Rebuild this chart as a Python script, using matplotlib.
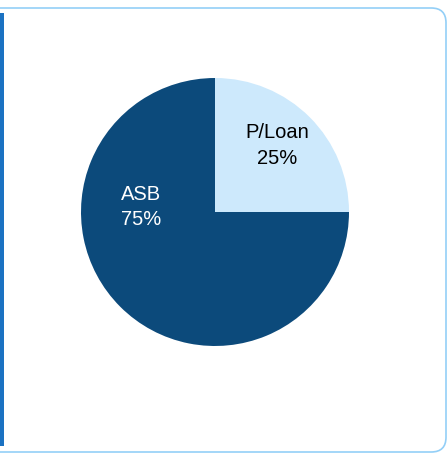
import numpy as np
import matplotlib
matplotlib.use('Agg')
import matplotlib.pyplot as plt
from matplotlib.patches import FancyBboxPatch, Rectangle

# Share of each product
labels = ['P/Loan', 'ASB']
shares = [25, 75]
colors = ['#cde9fc', '#0c4a7b']
text_colors = ['#000000', '#ffffff']

W, H = 448, 454
fig = plt.figure(figsize=(W / 100, H / 100), dpi=100)
fig.patch.set_facecolor('white')

# Card outline (left side runs off the canvas)
card = FancyBboxPatch((-30 / W, 1 - 452 / H), (446 + 30) / W, (452 - 8) / H,
                      boxstyle='round,pad=0,rounding_size=0.033',
                      transform=fig.transFigure, facecolor='none',
                      edgecolor='#93cff7', linewidth=1.2, mutation_aspect=W / H)
fig.patches.append(card)
accent = Rectangle((0, 1 - 446 / H), 3.5 / W, (446 - 13) / H,
                   transform=fig.transFigure, facecolor='#1b72c2',
                   edgecolor='none')
fig.patches.append(accent)

# Pie: centre (215, 212) px, radius 134 px
r = 134
ax = fig.add_axes([(215 - r) / W, 1 - (212 + r) / H, 2 * r / W, 2 * r / H])
wedges, _ = ax.pie(shares, colors=colors, startangle=90, counterclock=False,
                   radius=1, wedgeprops=dict(linewidth=0))
ax.set_xlim(-1, 1)
ax.set_ylim(-1, 1)
ax.set_aspect('auto')
ax.axis('off')

label_pos = [(np.deg2rad(47), 0.68), (np.deg2rad(176), 0.55)]
for (ang, dist), lab, val, tc in zip(label_pos, labels, shares, text_colors):
    ax.text(dist * np.cos(ang), dist * np.sin(ang), f'{lab}\n{val}%',
            ha='center', va='center', color=tc, fontsize=14.5,
            family='Liberation Sans', linespacing=1.42)

fig.savefig('out.png', dpi=100)
